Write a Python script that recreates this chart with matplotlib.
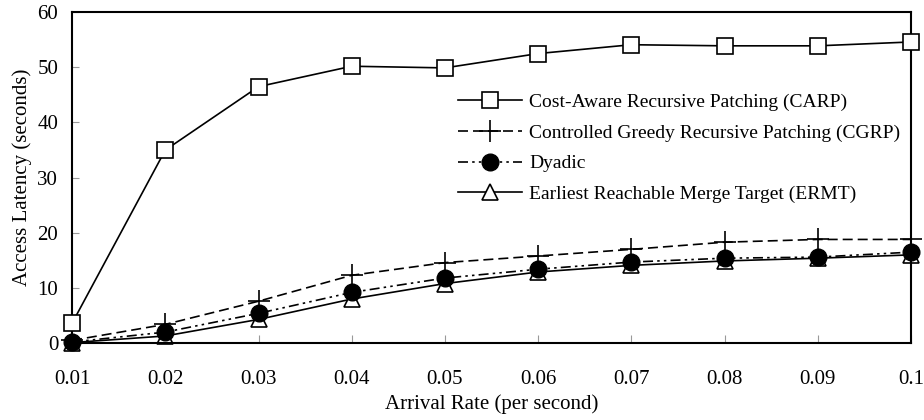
import matplotlib.pyplot as plt

plt.rcParams['font.family'] = ['Liberation Serif', 'DejaVu Serif']

rates = [0.01, 0.02, 0.03, 0.04, 0.05, 0.06, 0.07, 0.08, 0.09, 0.1]
carp = [3.6, 35.0, 46.5, 50.2, 49.9, 52.5, 54.1, 53.9, 53.9, 54.6]
cgrp = [0.5, 3.4, 7.6, 12.3, 14.6, 15.8, 17.0, 18.3, 18.8, 18.8]
dyadic = [0.2, 2.0, 5.4, 9.2, 11.8, 13.4, 14.7, 15.4, 15.6, 16.5]
ermt = [0.1, 1.3, 4.3, 8.0, 10.8, 12.9, 14.1, 14.9, 15.4, 16.0]
tick_labels = ['0.01', '0.02', '0.03', '0.04', '0.05', '0.06', '0.07', '0.08', '0.09', '0.1']

fig = plt.figure(figsize=(9.24, 4.2), dpi=100)
ax = fig.add_axes([0.078, 0.183, 0.908, 0.788])

ax.plot(rates, carp, color='black', lw=1.2, marker='s', ms=11, mfc='white', mec='black',
        mew=1.2, clip_on=False, zorder=4, label='Cost-Aware Recursive Patching (CARP)')
ax.plot(rates, cgrp, color='black', lw=1.2, ls=(0, (6, 3)), marker='+', ms=16, mew=1.2,
        clip_on=False, zorder=3, label='Controlled Greedy Recursive Patching (CGRP)')
ax.plot(rates, dyadic, color='black', lw=1.2, ls=(0, (6, 2.5, 1.5, 2.5, 1.5, 2.5)), marker='o',
        ms=12, mfc='black', mec='black', clip_on=False, zorder=3, label='Dyadic')
ax.plot(rates, ermt, color='black', lw=1.2, marker='^', ms=11, mfc='white', mec='black',
        mew=1.2, clip_on=False, zorder=2, label='Earliest Reachable Merge Target (ERMT)')

ax.set_xlim(0.01, 0.1)
ax.set_ylim(0, 60)
ax.set_xticks(rates)
ax.set_xticklabels(tick_labels)
ax.set_yticks(range(0, 61, 10))
ax.tick_params(axis='x', direction='in', length=6, width=0.8, labelsize=15, pad=19, color='#999999')
ax.tick_params(axis='y', direction='in', length=5, width=0.8, labelsize=15, pad=10, color='#999999')
for s in ax.spines.values():
    s.set_linewidth(1.5)

ax.set_xlabel('Arrival Rate (per second)', fontsize=15, labelpad=4)
ax.set_ylabel('Access Latency (seconds)', fontsize=15, labelpad=4)

ax.legend(loc='upper left', bbox_to_anchor=(458 / 924, 1 - 93 / 420), bbox_transform=fig.transFigure,
          frameon=False, fontsize=14, borderpad=0, borderaxespad=0,
          handlelength=3.3, handletextpad=0.35, labelspacing=0.68)

fig.savefig('out.png', dpi=100)
